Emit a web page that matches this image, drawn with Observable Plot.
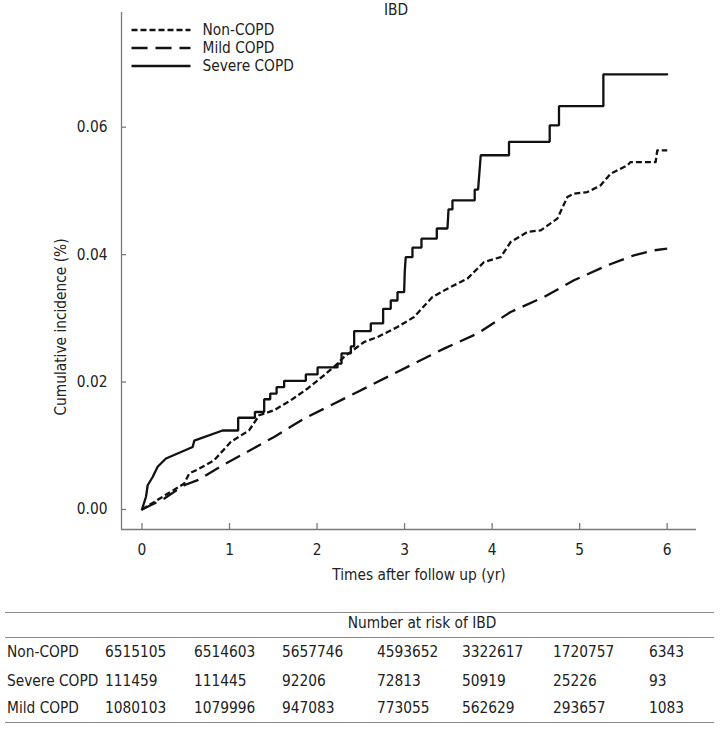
<!DOCTYPE html>
<html><head><meta charset="utf-8">
<script src="https://cdn.jsdelivr.net/npm/d3@7"></script>
<script src="https://cdn.jsdelivr.net/npm/@observablehq/plot@0.6"></script>
<style>
body{margin:0;background:#fff;}
#root{position:relative;width:724px;height:731px;overflow:hidden;font-family:"DejaVu Sans Condensed","DejaVu Sans",sans-serif;font-stretch:condensed;color:#222;font-size:15.3px;}
.abs{position:absolute;white-space:nowrap;height:20px;line-height:20px;}
.hl{position:absolute;left:5px;width:709px;height:0;border-top:1.3px solid #8a8a8a;}
</style></head><body><div id="root"></div>
<script>
// ---- text ----
const title = "IBD";
const xLabel = "Times after follow up (yr)";
const yLabel = "Cumulative incidence (%)";
const legendGroups = ["Non-COPD", "Mild COPD", "Severe COPD"];
const xTicks = [0, 1, 2, 3, 4, 5, 6];
const yTicks = [0, 0.02, 0.04, 0.06];

// ---- curves (time in years, cumulative incidence) ----
const nonCopdT = [0, 0.483, 0.540, 0.636, 0.825, 1.016, 1.225, 1.339, 1.510, 1.701, 1.892, 2.081, 2.234, 2.309, 2.538, 2.691, 2.919, 3.108, 3.318, 3.527, 3.718, 3.908, 4.098, 4.212, 4.403, 4.555, 4.745, 4.860, 4.935, 5.088, 5.240, 5.354, 5.545, 5.582, 5.868, 5.887, 6.0];
const nonCopdV = [0, 0.00408, 0.00565, 0.00627, 0.00773, 0.01063, 0.01244, 0.01479, 0.01558, 0.01715, 0.01898, 0.02107, 0.0229, 0.02394, 0.02629, 0.02707, 0.02864, 0.03021, 0.03335, 0.03492, 0.03624, 0.03884, 0.03962, 0.04198, 0.04355, 0.04381, 0.04565, 0.04904, 0.04957, 0.04982, 0.05087, 0.05271, 0.05401, 0.05453, 0.05453, 0.05636, 0.05636];

const mildT = [0, 0.255, 0.483, 0.636, 0.940, 1.168, 1.510, 1.853, 2.158, 2.462, 2.842, 3.299, 3.451, 3.832, 4.212, 4.592, 4.935, 5.316, 5.620, 5.848, 6.0];
const mildV = [0, 0.00173, 0.00381, 0.0046, 0.0071, 0.00878, 0.01139, 0.01427, 0.01636, 0.01845, 0.02107, 0.02421, 0.02525, 0.02761, 0.031, 0.03335, 0.03597, 0.03832, 0.03989, 0.04067, 0.04094];

const severeT = [0, 0.046, 0.065, 0.122, 0.179, 0.274, 0.579, 0.597, 0.921, 1.099, 1.099, 1.290, 1.290, 1.396, 1.396, 1.465, 1.465, 1.538, 1.538, 1.624, 1.624, 1.872, 1.872, 2.006, 2.006, 2.234, 2.234, 2.280, 2.280, 2.386, 2.386, 2.424, 2.424, 2.614, 2.614, 2.755, 2.755, 2.842, 2.842, 2.919, 2.919, 2.995, 3.002, 3.013, 3.090, 3.090, 3.193, 3.193, 3.368, 3.368, 3.490, 3.502, 3.547, 3.547, 3.801, 3.801, 3.840, 3.870, 4.193, 4.193, 4.658, 4.658, 4.764, 4.764, 5.271, 5.271, 6.0];
const severeV = [0, 0.0020, 0.0038, 0.0051, 0.0067, 0.0080, 0.0098, 0.0108, 0.0124, 0.0124, 0.0144, 0.0144, 0.0153, 0.0153, 0.0173, 0.0173, 0.0182, 0.0182, 0.0192, 0.0192, 0.0202, 0.0202, 0.0212, 0.0212, 0.0223, 0.0223, 0.0229, 0.0229, 0.0245, 0.0245, 0.0256, 0.0256, 0.0280, 0.0280, 0.0292, 0.0292, 0.0315, 0.0315, 0.0328, 0.0328, 0.0341, 0.0341, 0.0373, 0.0396, 0.0396, 0.0411, 0.0411, 0.0425, 0.0425, 0.0441, 0.0441, 0.0471, 0.0471, 0.0485, 0.0485, 0.0502, 0.0502, 0.0556, 0.0556, 0.0577, 0.0577, 0.0603, 0.0603, 0.0633, 0.0633, 0.0683, 0.0683];

// ---- number-at-risk table ----
const riskTitle = "Number at risk of IBD";
const riskGroups = ["Non-COPD", "Severe COPD", "Mild COPD"];
const riskNonCopd = [6515105, 6514603, 5657746, 4593652, 3322617, 1720757, 6343];
const riskSevere = [111459, 111445, 92206, 72813, 50919, 25226, 93];
const riskMild = [1080103, 1079996, 947083, 773055, 562629, 293657, 1083];

// ---- layout / style ----
const FONT = '"DejaVu Sans Condensed","DejaVu Sans",sans-serif';
const axisColor = "#7a7a7a";
const textColor = "#222";
const lineColor = "#111";
const xDomain = [-0.234, 6.335];
const yDomain = [-0.00314, 0.078];
const dashNon = "6,3";
const dashMild = "16,8";

const toRows = (T, V) => T.map((t, i) => ({t, v: V[i]}));
const nonRows = toRows(nonCopdT, nonCopdV);
const mildRows = toRows(mildT, mildV);
const sevRows = toRows(severeT, severeV);

const chart = Plot.plot({
  width: 724, height: 600,
  marginLeft: 121, marginRight: 28, marginTop: 12, marginBottom: 71,
  x: {domain: xDomain},
  y: {domain: yDomain},
  style: {fontFamily: FONT, fontSize: "15px", color: textColor, background: "white", overflow: "visible"},
  marks: [
    Plot.ruleX([xDomain[0]], {stroke: axisColor, strokeWidth: 1.3}),
    Plot.ruleY([yDomain[0]], {stroke: axisColor, strokeWidth: 1.3}),
    Plot.axisX(xTicks, {tickSize: -6, tickPadding: 21, stroke: axisColor, strokeWidth: 1.3, fill: textColor, label: null, fontSize: 15.3}),
    Plot.axisY(yTicks, {tickSize: -5, tickPadding: 19, tickFormat: d3.format(".2f"), stroke: axisColor, strokeWidth: 1.3, fill: textColor, label: null, fontSize: 15.3}),
    Plot.line(mildRows, {x: "t", y: "v", stroke: lineColor, strokeWidth: 2.3, strokeDasharray: dashMild, strokeLinecap: "butt"}),
    Plot.line(nonRows, {x: "t", y: "v", stroke: lineColor, strokeWidth: 2.3, strokeDasharray: dashNon, strokeLinecap: "butt"}),
    Plot.line(sevRows, {x: "t", y: "v", stroke: lineColor, strokeWidth: 2.3, strokeLinejoin: "miter"}),
    Plot.text([title], {frameAnchor: "top", lineAnchor: "middle", dx: -13, dy: -2, fontSize: 15.3, fill: textColor}),
    Plot.text([xLabel], {frameAnchor: "bottom", lineAnchor: "middle", dx: 10, dy: 46, fontSize: 15.3, fill: textColor}),
    Plot.text([yLabel], {frameAnchor: "left", textAnchor: "middle", lineAnchor: "middle", rotate: -90, dx: -60, dy: 56, fontSize: 15.3, fill: textColor})
  ]
});

const root = document.getElementById("root");
root.appendChild(chart);

// legend overlay (inside plot area, top-left)
const legendDash = [dashNon, dashMild, null];
const legendY = [30, 48, 66];
const svgNS = "http://www.w3.org/2000/svg";
const lg = document.createElementNS(svgNS, "svg");
lg.setAttribute("width", 724); lg.setAttribute("height", 90);
lg.style.position = "absolute"; lg.style.left = "0px"; lg.style.top = "0px";
legendGroups.forEach((g, i) => {
  const ln = document.createElementNS(svgNS, "line");
  ln.setAttribute("x1", 131.5); ln.setAttribute("x2", 190.5);
  ln.setAttribute("y1", legendY[i]); ln.setAttribute("y2", legendY[i]);
  ln.setAttribute("stroke", lineColor); ln.setAttribute("stroke-width", 2.3);
  if (legendDash[i]) ln.setAttribute("stroke-dasharray", legendDash[i]);
  lg.appendChild(ln);
});
root.appendChild(lg);
legendGroups.forEach((g, i) => {
  const d = document.createElement("div");
  d.className = "abs";
  d.textContent = g;
  d.style.left = "202.5px";
  d.style.top = (legendY[i] - 10.5) + "px";
  root.appendChild(d);
});

// number-at-risk table
[611.5, 636.5, 721.5].forEach(y => {
  const h = document.createElement("div");
  h.className = "hl"; h.style.top = y + "px"; root.appendChild(h);
});
const hd = document.createElement("div");
hd.className = "abs"; hd.textContent = riskTitle;
hd.style.left = "422px"; hd.style.top = "613px"; hd.style.transform = "translateX(-50%)";
root.appendChild(hd);
const riskRows = [riskNonCopd, riskSevere, riskMild];
const colX = [105, 194, 282, 377, 462, 553, 649];
const rowY = [652, 680.5, 708];
riskRows.forEach((vals, r) => {
  const lab = document.createElement("div");
  lab.className = "abs"; lab.textContent = riskGroups[r];
  lab.style.left = "7px"; lab.style.top = (rowY[r] - 10) + "px";
  root.appendChild(lab);
  vals.forEach((v, c) => {
    const cell = document.createElement("div");
    cell.className = "abs"; cell.textContent = String(v);
    cell.style.left = colX[c] + "px"; cell.style.top = (rowY[r] - 10) + "px";
    root.appendChild(cell);
  });
});
</script>
</body></html>
